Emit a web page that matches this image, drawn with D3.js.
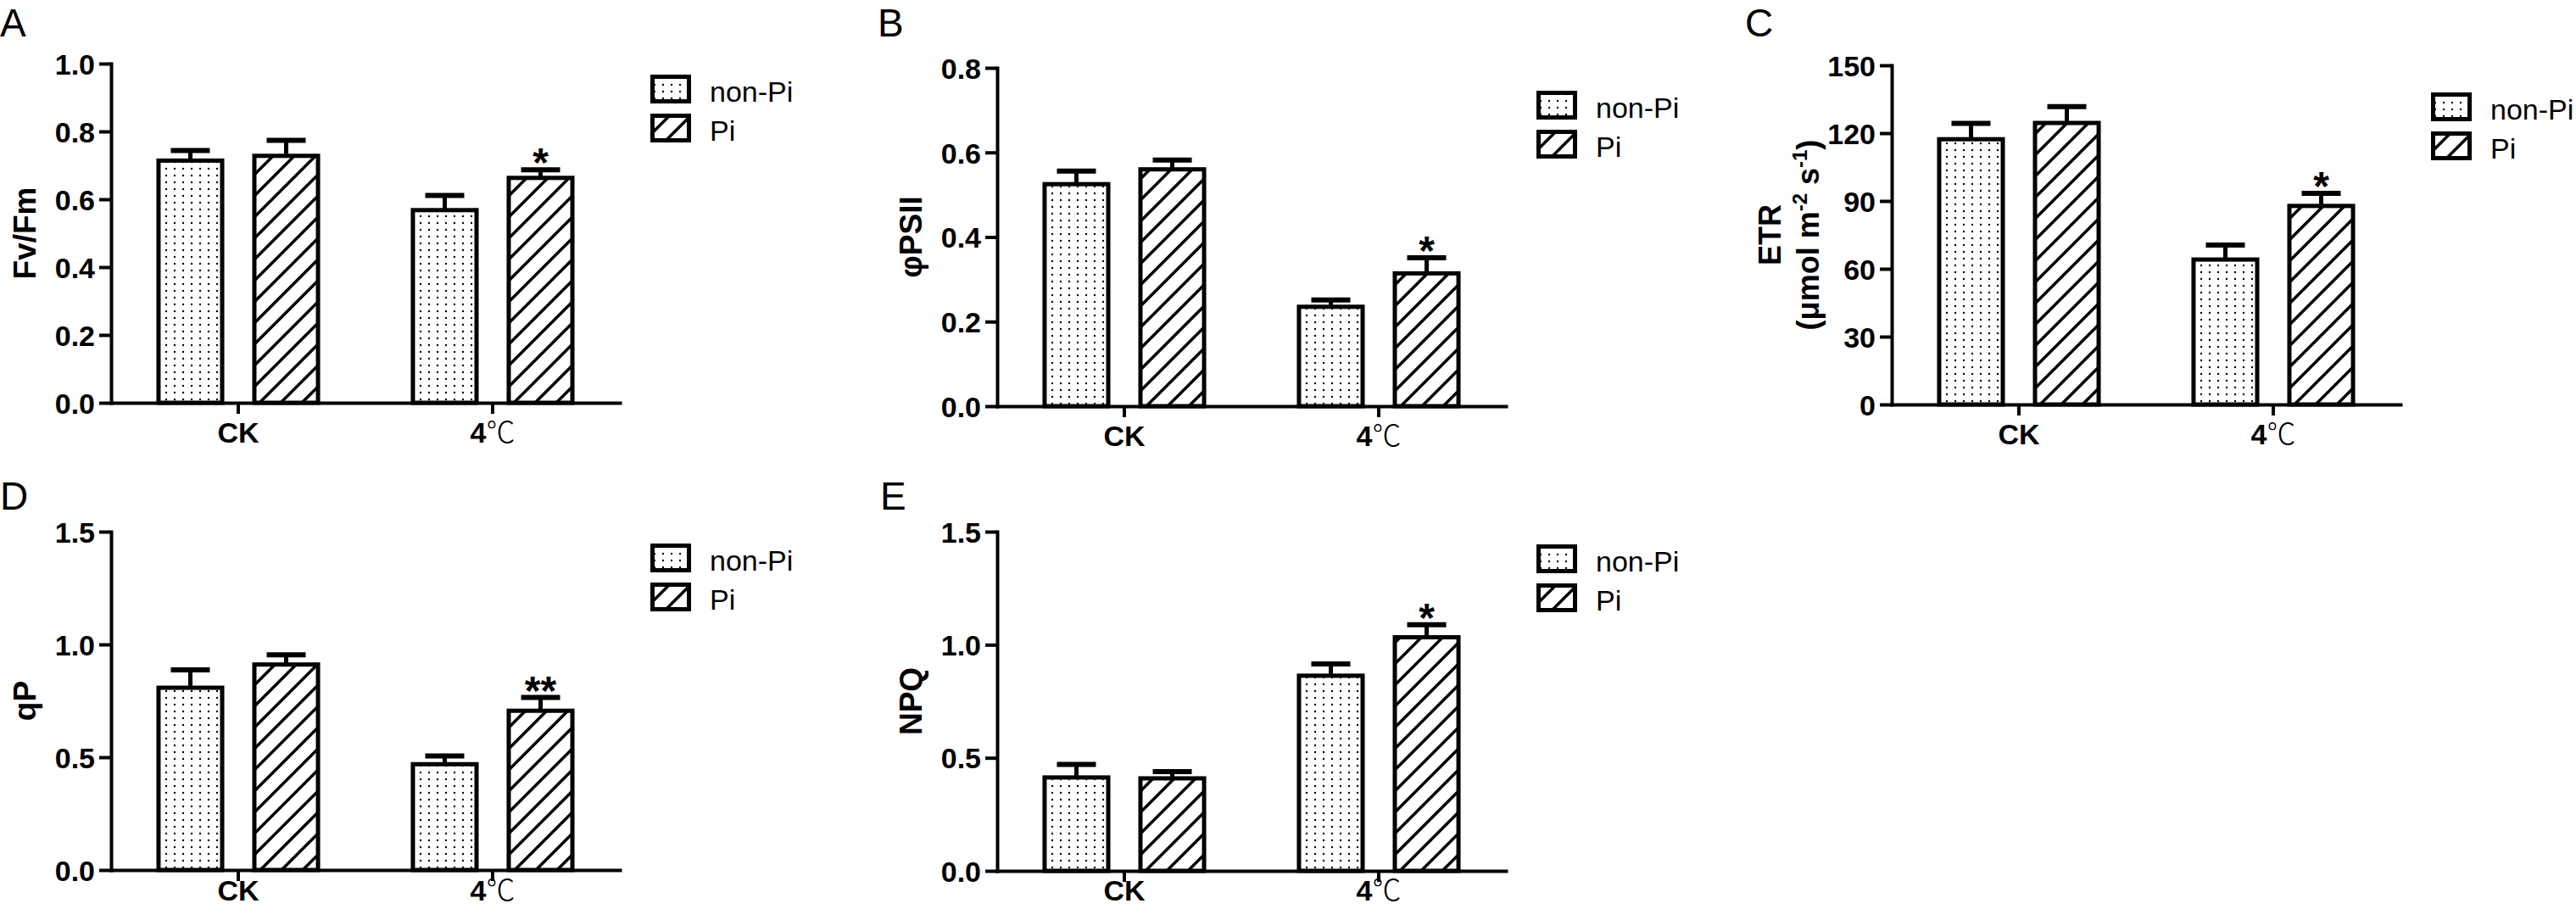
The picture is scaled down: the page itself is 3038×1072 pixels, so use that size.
<!DOCTYPE html>
<html>
<head>
<meta charset="utf-8">
<script src="https://d3js.org/d3.v7.min.js"></script>
<style>
  html, body { margin: 0; padding: 0; background: #fff; }
  svg { display: block; }
  text { font-family: "Liberation Sans", Arial, sans-serif; fill: #000; }
</style>
</head>
<body>
<svg id="chart" width="3038" height="1072"></svg>
<script>
// ---- data ----
const categories = ['CK', '4℃'];
const series = ['non-Pi', 'Pi'];

// A: Fv/Fm
const fvfmNonPi = [0.714, 0.568];
const fvfmNonPiErr = [0.030, 0.043];
const fvfmPi = [0.728, 0.663];
const fvfmPiErr = [0.046, 0.024];
const fvfmStars = ['', '*'];
const fvfmTicks = [0, 0.2, 0.4, 0.6, 0.8, 1.0];

// B: φPSII
const psiiNonPi = [0.525, 0.235];
const psiiNonPiErr = [0.031, 0.016];
const psiiPi = [0.560, 0.314];
const psiiPiErr = [0.022, 0.037];
const psiiStars = ['', '*'];
const psiiTicks = [0, 0.2, 0.4, 0.6, 0.8];

// C: ETR
const etrNonPi = [117.3, 64.1];
const etrNonPiErr = [7.0, 6.4];
const etrPi = [124.5, 87.8];
const etrPiErr = [7.2, 5.6];
const etrStars = ['', '*'];
const etrTicks = [0, 30, 60, 90, 120, 150];

// D: qP
const qpNonPi = [0.808, 0.469];
const qpNonPiErr = [0.079, 0.037];
const qpPi = [0.911, 0.706];
const qpPiErr = [0.043, 0.059];
const qpStars = ['', '**'];
const qpTicks = [0, 0.5, 1.0, 1.5];

// E: NPQ
const npqNonPi = [0.413, 0.863];
const npqNonPiErr = [0.058, 0.052];
const npqPi = [0.409, 1.033];
const npqPiErr = [0.030, 0.055];
const npqStars = ['', '*'];
const npqTicks = [0, 0.5, 1.0, 1.5];

// ---- panel layout ----
const panels = [
  { letter: 'A', lx: 0, ly: 43, x0: 131, top: 75, zero: 475, legY: 13, catY: 47, max: 1.0, ticks: fvfmTicks, fmt: '.1f',
    label: 'Fv/Fm', nonPi: fvfmNonPi, nonPiErr: fvfmNonPiErr, pi: fvfmPi, piErr: fvfmPiErr, stars: fvfmStars },
  { letter: 'B', lx: 1035, ly: 43, x0: 1176, top: 80, zero: 479, legY: 27, catY: 47, max: 0.8, ticks: psiiTicks, fmt: '.1f',
    label: 'φPSII', nonPi: psiiNonPi, nonPiErr: psiiNonPiErr, pi: psiiPi, piErr: psiiPiErr, stars: psiiStars },
  { letter: 'C', lx: 2058, ly: 43, x0: 2231, top: 77, zero: 477, legY: 32, catY: 47, max: 150, ticks: etrTicks, fmt: 'd',
    label: 'ETR', unit: true, nonPi: etrNonPi, nonPiErr: etrNonPiErr, pi: etrPi, piErr: etrPiErr, stars: etrStars },
  { letter: 'D', lx: 0, ly: 601, x0: 131, top: 627, zero: 1026, legY: 14, catY: 36, max: 1.5, ticks: qpTicks, fmt: '.1f',
    label: 'qP', nonPi: qpNonPi, nonPiErr: qpNonPiErr, pi: qpPi, piErr: qpPiErr, stars: qpStars },
  { letter: 'E', lx: 1038, ly: 601, x0: 1176, top: 627, zero: 1027, legY: 15, catY: 35, max: 1.5, ticks: npqTicks, fmt: '.1f',
    label: 'NPQ', nonPi: npqNonPi, nonPiErr: npqNonPiErr, pi: npqPi, piErr: npqPiErr, stars: npqStars },
];

const plotW = 600;
const svg = d3.select('#chart');

// fill patterns
const defs = svg.append('defs');
const dots = defs.append('pattern')
  .attr('id', 'dots').attr('patternUnits', 'userSpaceOnUse')
  .attr('width', 10).attr('height', 8);
dots.append('rect').attr('width', 10).attr('height', 8).attr('fill', '#fff');
dots.append('circle').attr('cx', 5).attr('cy', 4).attr('r', 1.2).attr('fill', '#000');

const hatch = defs.append('pattern')
  .attr('id', 'hatch').attr('patternUnits', 'userSpaceOnUse')
  .attr('width', 25).attr('height', 25);
hatch.append('rect').attr('width', 25).attr('height', 25).attr('fill', '#fff');
hatch.append('path')
  .attr('d', 'M-5,5 L5,-5 M0,25 L25,0 M20,30 L30,20')
  .attr('stroke', '#000').attr('stroke-width', 3.5);

const fills = { 'non-Pi': 'url(#dots)', 'Pi': 'url(#hatch)' };

panels.forEach(p => {
  const h = p.zero - p.top;

  // panel letter
  svg.append('text')
    .attr('x', p.lx).attr('y', p.ly)
    .attr('font-size', 46)
    .text(p.letter);

  const g = svg.append('g').attr('transform', `translate(${p.x0},${p.top})`);

  const y = d3.scaleLinear().domain([0, p.max]).range([h, 0]);
  const x = d3.scaleBand().domain(categories).range([0, plotW])
    .paddingInner(0.373).paddingOuter(0.1865);
  const xs = d3.scaleBand().domain(series).range([0, x.bandwidth()])
    .paddingInner(0.336).paddingOuter(0);

  const rows = [];
  categories.forEach((c, i) => {
    rows.push({ cat: c, s: 'non-Pi', v: p.nonPi[i], e: p.nonPiErr[i], star: '' });
    rows.push({ cat: c, s: 'Pi', v: p.pi[i], e: p.piErr[i], star: p.stars[i] });
  });

  // bars
  g.selectAll('rect.bar')
    .data(rows)
    .enter()
    .append('rect')
    .attr('class', 'bar')
    .attr('x', d => x(d.cat) + xs(d.s))
    .attr('y', d => y(d.v))
    .attr('width', xs.bandwidth())
    .attr('height', d => h - y(d.v))
    .attr('fill', d => fills[d.s])
    .attr('stroke', '#000')
    .attr('stroke-width', 5);

  // error bars (upper only)
  const cx = d => x(d.cat) + xs(d.s) + xs.bandwidth() / 2;
  g.selectAll('line.stem')
    .data(rows)
    .enter()
    .append('line')
    .attr('x1', cx).attr('x2', cx)
    .attr('y1', d => y(d.v)).attr('y2', d => y(d.v + d.e))
    .attr('stroke', '#000').attr('stroke-width', 5);
  g.selectAll('line.cap')
    .data(rows)
    .enter()
    .append('line')
    .attr('x1', d => cx(d) - 23).attr('x2', d => cx(d) + 23)
    .attr('y1', d => y(d.v + d.e)).attr('y2', d => y(d.v + d.e))
    .attr('stroke', '#000').attr('stroke-width', 6);

  // significance marks
  g.selectAll('text.star')
    .data(rows.filter(d => d.star))
    .enter()
    .append('text')
    .attr('x', cx)
    .attr('y', d => y(d.v + d.e) + 8)
    .attr('text-anchor', 'middle')
    .attr('font-size', 48)
    .attr('font-weight', 'bold')
    .text(d => d.star);

  // y axis
  const yAxis = g.append('g')
    .call(d3.axisLeft(y)
      .tickValues(p.ticks)
      .tickSize(14)
      .tickSizeOuter(0)
      .tickPadding(5)
      .tickFormat(d3.format(p.fmt)));
  yAxis.select('.domain').attr('stroke-width', 4).attr('stroke-linecap', 'square');
  yAxis.selectAll('.tick line').attr('stroke-width', 4);
  yAxis.selectAll('.tick text')
    .attr('font-size', 34)
    .attr('font-weight', 'bold')
    .attr('font-family', '"Liberation Sans", Arial, sans-serif')
    .attr('fill', '#000')
    .attr('dy', '0.36em');

  // x axis
  const xAxis = g.append('g')
    .attr('transform', `translate(0,${h})`)
    .call(d3.axisBottom(x).tickSize(13).tickSizeOuter(0));
  xAxis.select('.domain').attr('stroke-width', 4).attr('stroke-linecap', 'square');
  xAxis.selectAll('.tick line').attr('stroke-width', 4);
  xAxis.selectAll('.tick text')
    .text(null)
    .attr('y', p.catY).attr('dy', 0)
    .attr('font-size', 34)
    .attr('font-family', '"Liberation Sans", Arial, sans-serif')
    .attr('fill', '#000')
    .each(function (d) {
      const t = d3.select(this);
      if (d.endsWith('℃')) {
        t.append('tspan').attr('font-weight', 'bold').text(d.slice(0, -1));
        t.append('tspan')
          .attr('font-family', '"Noto Sans CJK SC", sans-serif')
          .attr('font-weight', 300)
          .text('℃');
      } else {
        t.append('tspan').attr('font-weight', 'bold').text(d);
      }
    });

  // y label
  const midY = h / 2;
  if (p.unit) {
    g.append('text')
      .attr('transform', `translate(-131,${midY}) rotate(-90)`)
      .attr('text-anchor', 'middle')
      .attr('font-size', 36).attr('font-weight', 'bold')
      .text(p.label);
    const u = g.append('text')
      .attr('transform', `translate(-86,${midY}) rotate(-90)`)
      .attr('text-anchor', 'middle')
      .attr('font-size', 36).attr('font-weight', 'bold');
    u.append('tspan').text('(μmol m');
    u.append('tspan').attr('font-size', 24).attr('dy', -14).text('-2');
    u.append('tspan').attr('dy', 14).text(' s');
    u.append('tspan').attr('font-size', 24).attr('dy', -14).text('-1');
    u.append('tspan').attr('dy', 14).text(')');
  } else {
    g.append('text')
      .attr('transform', `translate(-89,${midY}) rotate(-90)`)
      .attr('text-anchor', 'middle')
      .attr('font-size', 37).attr('font-weight', 'bold')
      .text(p.label);
  }

  // legend
  const leg = g.append('g').attr('transform', `translate(636,${p.legY})`);
  series.forEach((s, i) => {
    const row = leg.append('g').attr('transform', `translate(0,${i * 46})`);
    row.append('rect')
      .attr('x', 2.5).attr('y', 2.5)
      .attr('width', 43).attr('height', 29)
      .attr('fill', fills[s])
      .attr('stroke', '#000').attr('stroke-width', 5);
    row.append('text')
      .attr('x', 70).attr('y', 32)
      .attr('font-size', 34)
      .text(s);
  });
});
</script>
</body>
</html>
